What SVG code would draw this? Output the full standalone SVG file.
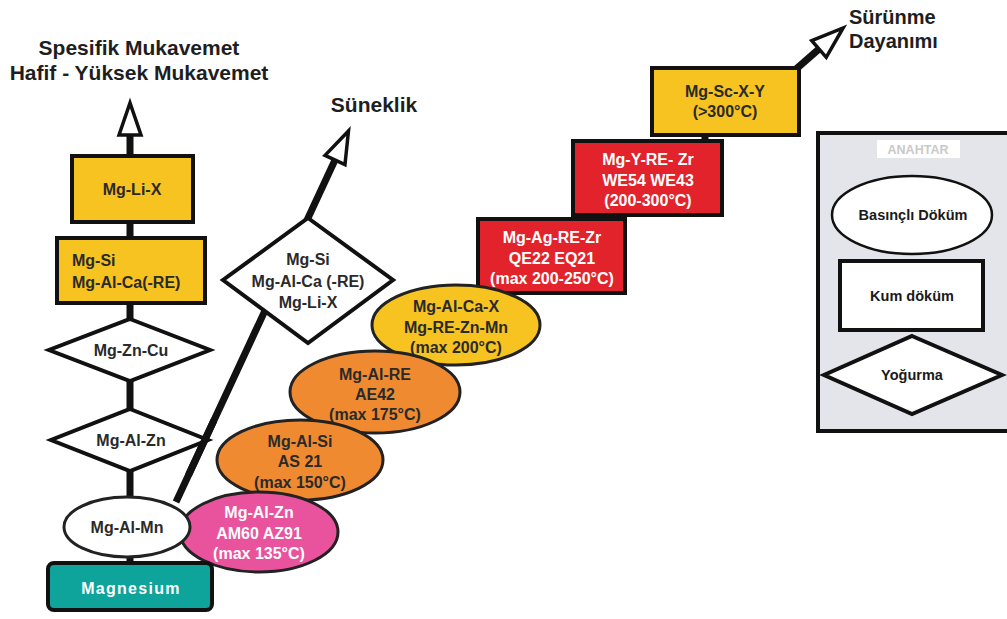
<svg xmlns="http://www.w3.org/2000/svg" width="1007" height="619" viewBox="0 0 1007 619">
<style>
text{font-family:"Liberation Sans",Arial,sans-serif;font-weight:bold;text-anchor:middle}
.t{font-size:16px;fill:#2a2a2a}
.w{font-size:16px;fill:#ffffff}
.big{font-size:21px;fill:#1e1e1e}
.lg{font-size:14.5px;fill:#1a1a1a}
.box{stroke:#111;stroke-width:4}
.ell{stroke:#222;stroke-width:3}
.con{stroke:#111;stroke-width:7;fill:none}
.yel{fill:#f6c320}
.red{fill:#e3232b}
.org{fill:#ef8a31}
</style>
<defs>
<marker id="ah" markerUnits="userSpaceOnUse" viewBox="-4 -4 42 32" markerWidth="42" markerHeight="32" refX="0" refY="11" orient="auto">
<path d="M0,0 L32,11 L0,22 Z" fill="#fff" stroke="#111" stroke-width="3.5" stroke-linejoin="miter"/>
</marker>
</defs>
<rect width="1007" height="619" fill="#fff"/>

<g id="labels">
<text class="big" x="139" y="55">Spesifik Mukavemet</text>
<text class="big" x="139" y="80">Hafif - Yüksek Mukavemet</text>
<text class="big" x="374" y="112">Süneklik</text>
<text class="big" x="849" y="24" style="text-anchor:start;font-size:20px">Sürünme</text>
<text class="big" x="849" y="48" style="text-anchor:start;font-size:20px">Dayanımı</text>
</g>

<g id="connectors">
<line class="con" x1="130" y1="565" x2="130" y2="135" marker-end="url(#ah)"/>
<line class="con" x1="176" y1="502" x2="335" y2="160" marker-end="url(#ah)"/>
<line class="con" x1="705" y1="133" x2="705" y2="143"/>
<line class="con" x1="795" y1="70" x2="819" y2="49" marker-end="url(#ah)"/>
</g>

<g id="mg-li-x"><rect class="box yel" x="72" y="156" width="121" height="66"/><text class="t" x="132" y="195">Mg-Li-X</text></g>
<g id="mg-si"><rect class="box yel" x="57" y="238" width="148" height="65"/><text class="t" x="72" y="266" style="text-anchor:start">Mg-Si</text><text class="t" x="72" y="288" style="text-anchor:start">Mg-Al-Ca(-RE)</text></g>
<g id="mg-zn-cu"><polygon class="box" fill="#fff" points="130,319 210,350 130,381 49,350"/><text class="t" x="131" y="356">Mg-Zn-Cu</text></g>
<g id="mg-al-zn"><polygon class="box" fill="#fff" points="130,409 208,440 130,471 51,440"/><text class="t" x="131" y="446">Mg-Al-Zn</text></g>
<line class="con" x1="188.5" y1="475" x2="214.1" y2="420"/>

<g id="mg-si-diamond"><polygon class="box" fill="#fff" points="308,218 393,280 308,343 223,280"/><text class="t" x="308" y="265">Mg-Si</text><text class="t" x="308" y="287">Mg-Al-Ca (-RE)</text><text class="t" x="308" y="308">Mg-Li-X</text></g>

<g id="mg-sc-x-y"><rect class="box yel" x="652" y="68" width="147" height="67"/><text class="t" x="725" y="97">Mg-Sc-X-Y</text><text class="t" x="725" y="117">(&gt;300°C)</text></g>
<g id="mg-y-re-zr"><rect class="box red" x="573" y="141" width="149" height="74"/><text class="w" x="648" y="165">Mg-Y-RE- Zr</text><text class="w" x="648" y="186">WE54 WE43</text><text class="w" x="648" y="206">(200-300°C)</text></g>
<g id="mg-ag-re-zr"><rect class="box red" x="478" y="219" width="147" height="74"/><text class="w" x="552" y="243">Mg-Ag-RE-Zr</text><text class="w" x="552" y="264">QE22 EQ21</text><text class="w" x="552" y="284">(max 200-250°C)</text></g>
<g id="mg-al-ca-x"><ellipse class="ell yel" cx="456" cy="325" rx="84" ry="40"/><text class="t" x="456" y="312">Mg-Al-Ca-X</text><text class="t" x="456" y="333">Mg-RE-Zn-Mn</text><text class="t" x="456" y="353">(max 200°C)</text></g>
<g id="mg-al-re"><ellipse class="ell org" cx="375" cy="392" rx="85" ry="41"/><text class="t" x="375" y="380">Mg-Al-RE</text><text class="t" x="375" y="400">AE42</text><text class="t" x="375" y="420">(max 175°C)</text></g>
<g id="mg-al-si"><ellipse class="ell org" cx="300" cy="460" rx="83" ry="40"/><text class="t" x="300" y="447">Mg-Al-Si</text><text class="t" x="300" y="467">AS 21</text><text class="t" x="300" y="488">(max 150°C)</text></g>
<g id="mg-al-zn-pink"><ellipse class="ell" fill="#e9529c" cx="259" cy="532" rx="79" ry="40"/><text class="w" x="259" y="518">Mg-Al-Zn</text><text class="w" x="259" y="539">AM60 AZ91</text><text class="w" x="259" y="559">(max 135°C)</text></g>
<g id="mg-al-mn"><ellipse class="ell" fill="#fff" cx="127" cy="527" rx="63" ry="30"/><text class="t" x="127" y="533">Mg-Al-Mn</text></g>
<g id="magnesium"><rect class="box" fill="#0ea39b" x="48" y="563" width="164" height="47" rx="6"/><text class="w" x="131" y="594" style="letter-spacing:1.3px">Magnesium</text></g>

<g id="legend">
<rect x="818" y="133" width="200" height="298" fill="#e4e5ea" stroke="#111" stroke-width="4"/>
<rect x="877" y="140" width="83" height="18" fill="#fff"/>
<text x="918" y="154" style="font-size:12.5px;fill:#c9c9c9">ANAHTAR</text>
<ellipse cx="912" cy="215" rx="80" ry="39" fill="#fff" stroke="#111" stroke-width="2.5"/>
<text class="lg" x="913" y="220">Basınçlı Döküm</text>
<rect x="840" y="261" width="143" height="69" fill="#fff" stroke="#111" stroke-width="4"/>
<text class="lg" x="912" y="301">Kum döküm</text>
<polygon points="912,336 1002,375 912,414 824,375" fill="#fff" stroke="#111" stroke-width="4"/>
<text class="lg" x="912" y="380">Yoğurma</text>
</g>
</svg>
